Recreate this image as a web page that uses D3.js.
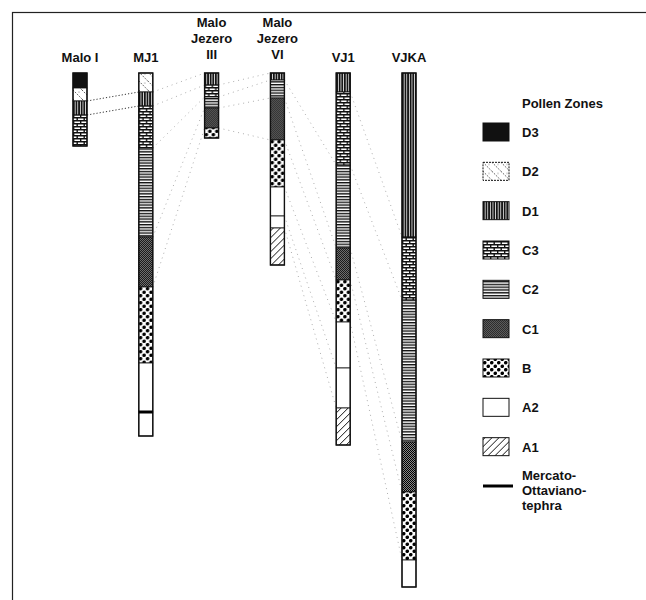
<!DOCTYPE html>
<html>
<head>
<meta charset="utf-8">
<script src="https://cdn.jsdelivr.net/npm/d3@7"></script>
<style>
  body { margin: 0; background: #fff; }
  text { font-family: "Liberation Sans", Arial, sans-serif; fill: #111; }
</style>
</head>
<body>
<div id="vis"></div>
<script>
// cores, left to right
var cores = ["Malo I", "MJ1", "Malo Jezero III", "Malo Jezero VI", "VJ1", "VJKA"];
var coreLabels = [["Malo I"], ["MJ1"], ["Malo", "Jezero", "III"], ["Malo", "Jezero", "VI"], ["VJ1"], ["VJKA"]];

// pollen zone sequence of each core: [zone, top, bottom] in relative depth units
var zonesMaloI = [["D3", 0, 15], ["D2", 15, 28], ["D1", 28, 42], ["C3", 42, 73]];
var zonesMJ1 = [["D2", 0, 19], ["D1", 19, 33], ["C3", 33, 75], ["C2", 75, 164], ["C1", 164, 214],
                ["B", 214, 290], ["A2", 290, 339], ["A2", 339, 363]];
var zonesMJIII = [["D1", 0, 12], ["C3", 12, 24], ["C2", 24, 35], ["C1", 35, 55], ["B", 55, 65]];
var zonesMJVI = [["D1", 0, 7], ["C2", 7, 25], ["C1", 25, 67], ["B", 67, 114], ["A2", 114, 143],
                 ["A2", 143, 155], ["A1", 155, 192]];
var zonesVJ1 = [["D1", 0, 19], ["C3", 19, 92], ["C2", 92, 175], ["C1", 175, 207], ["B", 207, 249],
                ["A2", 249, 295], ["A2", 295, 335], ["A1", 335, 372]];
var zonesVJKA = [["D1", 0, 164], ["C3", 164, 227], ["C2", 227, 369], ["C1", 369, 419], ["B", 419, 487],
                 ["A2", 487, 514]];
var coreZones = [zonesMaloI, zonesMJ1, zonesMJIII, zonesMJVI, zonesVJ1, zonesVJKA];

// Mercato-Ottaviano tephra: [core index, depth]
var tephraLayers = [[1, 339]];

// correlation lines: [from core, depth, to core, depth]
var tiesStrong = [[0, 28, 1, 19], [0, 42, 1, 33]];
var tiesFaint = [
  [1, 19, 2, 0], [1, 33, 2, 12], [1, 75, 2, 24], [1, 164, 2, 35], [1, 214, 2, 55],
  [2, 12, 3, 0], [2, 24, 3, 7], [2, 35, 3, 25], [2, 55, 3, 67],
  [3, 7, 4, 92], [3, 25, 4, 175], [3, 67, 4, 207], [3, 114, 4, 249], [3, 143, 4, 295], [3, 155, 4, 335],
  [4, 19, 5, 164], [4, 92, 5, 227], [4, 175, 5, 369], [4, 207, 5, 419], [4, 249, 5, 487]
];

// legend
var legendZones = ["D3", "D2", "D1", "C3", "C2", "C1", "B", "A2", "A1"];
var tephraLabel = ["Mercato-", "Ottaviano-", "tephra"];
var legendTitle = "Pollen Zones";

var width = 646, height = 600, colW = 14;

var svg = d3.select("#vis").append("svg")
    .attr("width", width)
    .attr("height", height);

// ---- fill patterns for the zones
var defs = svg.append("defs");
function pattern(id, w, h, bg) {
  var p = defs.append("pattern")
      .attr("id", id)
      .attr("patternUnits", "userSpaceOnUse")
      .attr("width", w)
      .attr("height", h);
  p.append("rect").attr("width", w).attr("height", h).attr("fill", bg || "#fff");
  return p;
}

var pD2 = pattern("pD2", 9, 9);
pD2.append("path").attr("d", "M0,0L9,9").attr("stroke", "#333").attr("stroke-width", 0.8)
    .attr("stroke-dasharray", "1.5,1.2");
pD2.append("circle").attr("cx", 6).attr("cy", 2).attr("r", 0.5).attr("fill", "#555");

var pD1 = pattern("pD1", 2.6, 4, "#ddd");
pD1.append("rect").attr("width", 1.7).attr("height", 4).attr("fill", "#111");

var pC3 = pattern("pC3", 7, 6);
pC3.append("path")
    .attr("d", "M0,0.7H7M0,3.7H7M0.7,0V3M4.2,3V6")
    .attr("stroke", "#111").attr("stroke-width", 1.4);

var pC2 = pattern("pC2", 4, 2.8);
pC2.append("rect").attr("width", 4).attr("height", 1.4).attr("fill", "#111");

var pC1 = pattern("pC1", 2, 2, "#888");
pC1.append("rect").attr("width", 1).attr("height", 1).attr("fill", "#000");
pC1.append("rect").attr("x", 1).attr("y", 1).attr("width", 1).attr("height", 1).attr("fill", "#000");

var pB = pattern("pB", 7, 7);
pB.append("circle").attr("cx", 1.75).attr("cy", 1.75).attr("r", 1.8).attr("fill", "#000");
pB.append("circle").attr("cx", 5.25).attr("cy", 5.25).attr("r", 1.8).attr("fill", "#000");

var pA1 = pattern("pA1", 7, 7);
pA1.append("path").attr("d", "M0,7L7,0M-1,1L1,-1M6,8L8,6")
    .attr("stroke", "#111").attr("stroke-width", 1);

var zoneFill = d3.scaleOrdinal()
    .domain(legendZones)
    .range(["#111", "url(#pD2)", "url(#pD1)", "url(#pC3)", "url(#pC2)", "url(#pC1)", "url(#pB)", "#fff", "url(#pA1)"]);

// ---- scales
var x = d3.scalePoint().domain(d3.range(cores.length)).range([80, 409]);
var y = d3.scaleLinear().domain([0, 520]).range([73, 593]);

// frame
svg.append("rect")
    .attr("x", 12.5).attr("y", 12.5)
    .attr("width", 660).attr("height", 660)
    .attr("fill", "none").attr("stroke", "#222").attr("stroke-width", 1.2);

// ---- correlation lines (drawn under the cores)
function tiePath(t) {
  return "M" + (x(t[0]) + colW / 2) + "," + y(t[1]) + "L" + (x(t[2]) - colW / 2) + "," + y(t[3]);
}
svg.append("g").selectAll("path")
    .data(tiesFaint)
  .enter().append("path")
    .attr("d", tiePath)
    .attr("fill", "none")
    .attr("stroke", "#999")
    .attr("stroke-width", 0.8)
    .attr("stroke-dasharray", "1,4");

svg.append("g").selectAll("path")
    .data(tiesStrong)
  .enter().append("path")
    .attr("d", tiePath)
    .attr("fill", "none")
    .attr("stroke", "#333")
    .attr("stroke-width", 1)
    .attr("stroke-dasharray", "1.2,2");

// ---- cores
var core = svg.append("g").selectAll("g")
    .data(coreZones)
  .enter().append("g")
    .attr("transform", function(d, i) { return "translate(" + (x(i) - colW / 2) + ",0)"; });

core.selectAll("rect.zone")
    .data(function(d) { return d; })
  .enter().append("rect")
    .attr("class", "zone")
    .attr("x", 0)
    .attr("y", function(d) { return y(d[1]); })
    .attr("width", colW)
    .attr("height", function(d) { return y(d[2]) - y(d[1]); })
    .attr("fill", function(d) { return zoneFill(d[0]); })
    .attr("stroke", "#111")
    .attr("stroke-width", 0.8);

core.append("rect")
    .attr("x", 0)
    .attr("y", function(d) { return y(d[0][1]); })
    .attr("width", colW)
    .attr("height", function(d) { return y(d[d.length - 1][2]) - y(d[0][1]); })
    .attr("fill", "none")
    .attr("stroke", "#111")
    .attr("stroke-width", 1.4);

svg.append("g").selectAll("line")
    .data(tephraLayers)
  .enter().append("line")
    .attr("x1", function(d) { return x(d[0]) - colW / 2; })
    .attr("x2", function(d) { return x(d[0]) + colW / 2; })
    .attr("y1", function(d) { return y(d[1]); })
    .attr("y2", function(d) { return y(d[1]); })
    .attr("stroke", "#000")
    .attr("stroke-width", 3);

// core labels: single-line names sit a little lower than stacked ones
svg.append("g").selectAll("text")
    .data(coreLabels)
  .enter().append("text")
    .attr("x", function(d, i) { return x(i); })
    .attr("text-anchor", "middle")
    .attr("font-size", 13)
    .attr("font-weight", "bold")
  .selectAll("tspan")
    .data(function(d) { return d.map(function(s, j) { return [s, d.length - 1 - j, d.length]; }); })
  .enter().append("tspan")
    .attr("x", function() { return d3.select(this.parentNode).attr("x"); })
    .attr("y", function(d) { return (d[2] > 1 ? 59 : 62) - d[1] * 16; })
    .text(function(d) { return d[0]; });

// ---- legend
var ly = d3.scalePoint().domain(legendZones.concat(["tephra"])).range([132, 486]);
var legend = svg.append("g")
    .attr("font-size", 13)
    .attr("font-weight", "bold");

legend.append("text")
    .attr("x", 522).attr("y", 108)
    .text(legendTitle);

var item = legend.selectAll("g.item")
    .data(legendZones)
  .enter().append("g")
    .attr("class", "item")
    .attr("transform", function(d) { return "translate(483," + ly(d) + ")"; });

item.append("rect")
    .attr("x", 0).attr("y", -9)
    .attr("width", 26).attr("height", 18)
    .attr("fill", function(d) { return zoneFill(d); })
    .attr("stroke", "#111")
    .attr("stroke-width", 1)
    .attr("stroke-dasharray", function(d) { return d === "D2" ? "2,1" : null; });

item.append("text")
    .attr("x", 39).attr("y", 5)
    .text(function(d) { return d; });

legend.append("line")
    .attr("x1", 483).attr("x2", 513)
    .attr("y1", ly("tephra")).attr("y2", ly("tephra"))
    .attr("stroke", "#000").attr("stroke-width", 3);

legend.append("text")
  .selectAll("tspan")
    .data(tephraLabel)
  .enter().append("tspan")
    .attr("x", 522)
    .attr("y", function(d, i) { return ly("tephra") - 6 + i * 15; })
    .text(function(d) { return d; });
</script>
</body>
</html>
